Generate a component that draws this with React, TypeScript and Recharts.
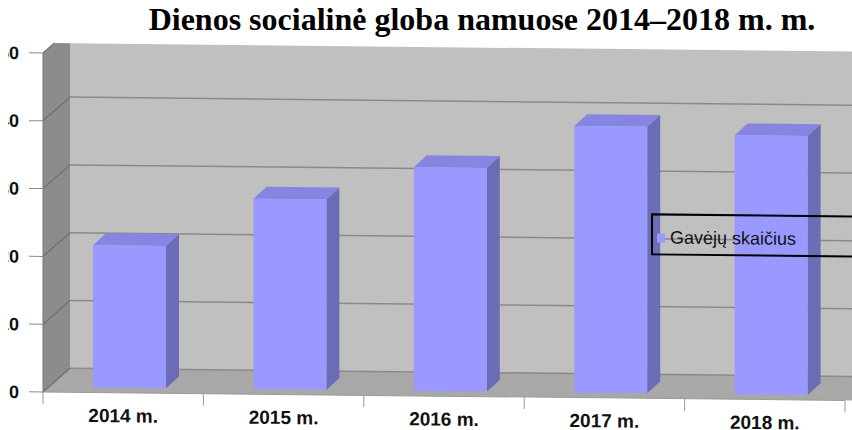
import React from 'react';
import { BarChart, Bar, XAxis, YAxis, CartesianGrid, Legend } from 'recharts';

const years = ['2014 m.', '2015 m.', '2016 m.', '2017 m.', '2018 m.'];
const recipients = [21, 28.1, 33, 39.3, 38.2];
const yTicks = [0, 10, 20, 30, 40, 50];
const seriesName = 'Gavėjų skaičius';
const title = 'Dienos socialinė globa namuose 2014–2018 m. m.';

const data = years.map((year, i) => ({ year, value: recipients[i] }));

// layout of the pseudo-3D box
const W = 852;
const H = 430;
const LEFT = 43;
const TOP = 53;
const RIGHT = 845;
const BOTTOM = 392;
const DX = 27; // wall depth
const DY = 24;
const WALL_TOP = 43;
const BAR_DX = 6; // bar front face pushed into the box
const BAR_DY = 5;
const CAP_X = 13;
const CAP_Y = 12;

const FRONT = '#9999ff';
const CAP = '#8686e2';
const SIDE = '#6b6bb6';
const SANS = '"Liberation Sans", Arial, sans-serif';

function Walls() {
  return (
    <svg width={W} height={H} style={{ position: 'absolute', left: 0, top: 0 }}>
      <rect x={LEFT + DX} y={WALL_TOP} width={W} height={BOTTOM - DY - WALL_TOP} fill="#c0c0c0" />
      <polygon
        points={`${LEFT},${TOP} ${LEFT + ((TOP - WALL_TOP) * DX) / DY},${WALL_TOP} ${LEFT + DX},${WALL_TOP} ${LEFT + DX},${BOTTOM - DY} ${LEFT},${BOTTOM}`}
        fill="#8c8c8c"
      />
      <polygon
        points={`${LEFT},${BOTTOM} ${LEFT + DX},${BOTTOM - DY} ${W + 40},${BOTTOM - DY} ${W + 40},${BOTTOM}`}
        fill="#a8a8a8"
      />
    </svg>
  );
}

function GridLine(props: any) {
  const { x1, y1 } = props;
  const up = Math.min(DY, y1 - WALL_TOP);
  const back = y1 - DY;
  return (
    <g>
      <line x1={x1} y1={y1} x2={x1 + (up * DX) / DY} y2={y1 - up} stroke="#6e6e6e" strokeWidth={1.2} />
      {back >= WALL_TOP && (
        <line x1={x1 + DX} y1={back} x2={W + 40} y2={back} stroke="#8a8a8a" strokeWidth={1.5} />
      )}
    </g>
  );
}

function Bar3D(props: any) {
  const { x, y, width, height } = props;
  const fx = x + BAR_DX;
  const fy = y - BAR_DY;
  const r = fx + width;
  const b = fy + height;
  return (
    <g>
      <polygon points={`${fx},${fy} ${fx + CAP_X},${fy - CAP_Y} ${r + CAP_X},${fy - CAP_Y} ${r},${fy}`} fill={CAP} />
      <polygon points={`${r},${fy} ${r + CAP_X},${fy - CAP_Y} ${r + CAP_X},${b - CAP_Y} ${r},${b}`} fill={SIDE} />
      <rect x={fx} y={fy} width={width} height={height} fill={FRONT} />
    </g>
  );
}

function XTick(props: any) {
  const { x, y, payload, index } = props;
  const half = (RIGHT - LEFT) / years.length / 2;
  return (
    <g>
      <line x1={x - half} y1={BOTTOM} x2={x - half} y2={BOTTOM + 12} stroke="#9a9a9a" />
      {index === years.length - 1 && (
        <line x1={x + half} y1={BOTTOM} x2={x + half} y2={BOTTOM + 12} stroke="#9a9a9a" />
      )}
      <text x={x} y={y} dy="0.71em" textAnchor="middle" fill="#111" fontFamily={SANS} fontWeight="bold" fontSize={19}>
        {payload.value}
      </text>
    </g>
  );
}

function YTick(props: any) {
  const { x, y, payload, index } = props;
  const id = `yclip-${index}`;
  return (
    <g>
      <defs>
        <clipPath id={id}>
          <rect x={8} y={y - 15} width={60} height={30} />
        </clipPath>
      </defs>
      <text
        x={x}
        y={y}
        dy="0.355em"
        textAnchor="end"
        clipPath={`url(#${id})`}
        fill="#111"
        fontFamily={SANS}
        fontWeight="bold"
        fontSize={18}
      >
        {payload.value}
      </text>
    </g>
  );
}

function LegendBox() {
  return (
    <div
      style={{
        width: 226,
        height: 32,
        paddingTop: 6,
        border: '2px solid #000',
        display: 'flex',
        alignItems: 'center',
      }}
    >
      <span style={{ width: 8, height: 9, background: FRONT, marginLeft: 4, marginRight: 5 }} />
      <span style={{ font: `18px ${SANS}`, color: '#111', whiteSpace: 'nowrap' }}>{seriesName}</span>
    </div>
  );
}

export default function App() {
  return (
    <div style={{ position: 'absolute', left: 0, top: 0, width: W, height: H, overflow: 'hidden', background: '#fff' }}>
      <div
        style={{
          position: 'absolute',
          left: 0,
          top: 0,
          width: W,
          height: H,
          transform: 'skewY(0.6deg)',
          transformOrigin: `${LEFT}px 0px`,
        }}
      >
        <Walls />
        <div style={{ position: 'absolute', left: 0, top: 0 }}>
          <BarChart width={W} height={H} data={data} margin={{ top: TOP, right: W - RIGHT, bottom: 0, left: 0 }}>
            <CartesianGrid vertical={false} horizontal={GridLine} />
            <XAxis
              dataKey="year"
              height={H - BOTTOM}
              axisLine={{ stroke: '#9a9a9a' }}
              tickLine={false}
              tickSize={12}
              tickMargin={4}
              tick={XTick}
              interval={0}
            />
            <YAxis
              type="number"
              domain={[0, 50]}
              ticks={yTicks}
              width={LEFT}
              axisLine={{ stroke: '#777' }}
              tickLine={{ stroke: '#8a8a8a' }}
              tickSize={14}
              tickMargin={10}
              tick={YTick}
              interval={0}
            />
            <Legend
              layout="horizontal"
              verticalAlign="middle"
              align="center"
              content={LegendBox}
              wrapperStyle={{ left: 651, top: 207, width: 232, height: 42 }}
            />
            <Bar dataKey="value" name={seriesName} barSize={73} shape={Bar3D} isAnimationActive={false} />
          </BarChart>
        </div>
      </div>
      <div
        style={{
          position: 'absolute',
          left: 0,
          top: 3,
          width: 964,
          textAlign: 'center',
          font: 'bold 32px/32px "Liberation Serif", "Times New Roman", serif',
          color: '#000',
          whiteSpace: 'nowrap',
        }}
      >
        {title}
      </div>
    </div>
  );
}
